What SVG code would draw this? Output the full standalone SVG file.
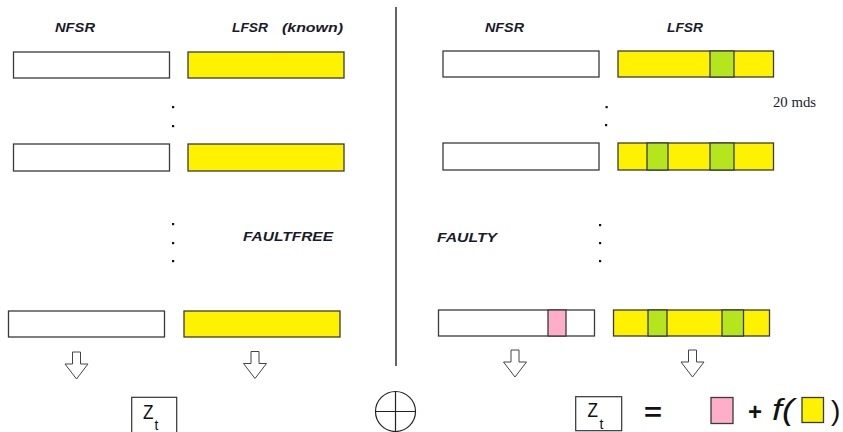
<svg xmlns="http://www.w3.org/2000/svg" width="843" height="432" viewBox="0 0 843 432">
  <style>
    .reg { fill: #ffffff; stroke: #3a3a3a; stroke-width: 1.3; }
    .lf { fill: #fff200; stroke: #3a3a3a; stroke-width: 1.3; }
    .gr { fill: #b5e61d; stroke: #3a3a3a; stroke-width: 1.3; }
    .pk { fill: #ffaec9; stroke: #3a3a3a; stroke-width: 1.3; }
    .lbl { font-family: "Liberation Sans", "DejaVu Sans", sans-serif; font-style: italic; font-weight: bold; font-size: 13px; fill: #1a1a2a; }
    .dot { fill: #111; }
    .arrow { fill: #ffffff; stroke: #444; stroke-width: 1; }
    .math { font-family: "Liberation Sans", "DejaVu Sans", sans-serif; fill: #111; }
    .line { stroke: #111; stroke-width: 1.3; fill: none; }
  </style>
  <defs>
    <path id="down" class="arrow" d="M-4,0 H4 V12 H11.5 L0,27 L-11.5,12 H-4 Z"/>
  </defs>

  <rect width="843" height="432" fill="#ffffff"/>

  <!-- column headings -->
  <g id="headings">
    <text class="lbl" x="55" y="32" textLength="40" lengthAdjust="spacingAndGlyphs">NFSR</text>
    <text class="lbl" x="232" y="32" textLength="36" lengthAdjust="spacingAndGlyphs">LFSR</text>
    <text class="lbl" x="282" y="32" textLength="61" lengthAdjust="spacingAndGlyphs">(known)</text>
    <text class="lbl" x="485" y="32" textLength="39" lengthAdjust="spacingAndGlyphs">NFSR</text>
    <text class="lbl" x="667" y="32" textLength="36" lengthAdjust="spacingAndGlyphs">LFSR</text>
    <text x="773" y="107" font-family="Liberation Serif, serif" font-size="14" fill="#1a1a2a" textLength="43" lengthAdjust="spacingAndGlyphs">20 mds</text>
    <text class="lbl" x="243" y="241" textLength="90" lengthAdjust="spacingAndGlyphs">FAULTFREE</text>
    <text class="lbl" x="437" y="242" textLength="60" lengthAdjust="spacingAndGlyphs">FAULTY</text>
  </g>

  <!-- fault-free side -->
  <g id="ff-nfsr-1"><rect class="reg" x="13.5" y="52" width="156" height="26"/></g>
  <g id="ff-lfsr-1"><rect class="lf" x="188" y="52" width="156" height="26"/></g>
  <g id="ff-nfsr-2"><rect class="reg" x="13.5" y="144" width="156" height="27"/></g>
  <g id="ff-lfsr-2"><rect class="lf" x="188" y="144" width="156" height="27"/></g>
  <g id="ff-nfsr-3"><rect class="reg" x="8.5" y="311" width="156" height="26"/></g>
  <g id="ff-lfsr-3"><rect class="lf" x="184" y="311" width="156" height="26"/></g>

  <!-- faulty side -->
  <g id="f-nfsr-1"><rect class="reg" x="443" y="51" width="156" height="26"/></g>
  <g id="f-lfsr-1">
    <rect class="lf" x="618" y="51" width="155.5" height="26"/>
    <rect class="gr" x="710" y="51" width="24" height="26"/>
  </g>
  <g id="f-nfsr-2"><rect class="reg" x="443" y="143" width="156" height="27"/></g>
  <g id="f-lfsr-2">
    <rect class="lf" x="618" y="143" width="155.5" height="27"/>
    <rect class="gr" x="647" y="143" width="21" height="27"/>
    <rect class="gr" x="710" y="143" width="24" height="27"/>
  </g>
  <g id="f-nfsr-3">
    <rect class="reg" x="438.5" y="310" width="156" height="26"/>
    <rect class="pk" x="548" y="310" width="18" height="26"/>
  </g>
  <g id="f-lfsr-3">
    <rect class="lf" x="613.5" y="310" width="156" height="26"/>
    <rect class="gr" x="648" y="310" width="19" height="26"/>
    <rect class="gr" x="722" y="310" width="21.5" height="26"/>
  </g>

  <!-- continuation dots -->
  <g id="dots">
    <rect class="dot" x="172" y="106" width="2.2" height="2.2"/>
    <rect class="dot" x="172" y="125" width="2.2" height="2.2"/>
    <rect class="dot" x="172" y="223" width="2.2" height="2.2"/>
    <rect class="dot" x="172" y="242" width="2.2" height="2.2"/>
    <rect class="dot" x="172" y="260" width="2.2" height="2.2"/>
    <rect class="dot" x="605.5" y="106" width="2.2" height="2.2"/>
    <rect class="dot" x="605" y="124" width="2.2" height="2.2"/>
    <rect class="dot" x="599" y="224" width="2.2" height="2.2"/>
    <rect class="dot" x="599" y="242" width="2.2" height="2.2"/>
    <rect class="dot" x="599" y="260" width="2.2" height="2.2"/>
  </g>

  <!-- connectors: divider and output arrows -->
  <g id="connectors">
    <line class="line" x1="396" y1="7" x2="396" y2="366"/>
    <use href="#down" x="76.5" y="352"/>
    <use href="#down" x="255" y="351.5"/>
    <use href="#down" x="515" y="350"/>
    <use href="#down" x="692.5" y="350"/>
  </g>

  <!-- keystream outputs -->
  <g id="zt-left">
    <rect x="131.7" y="397.3" width="45" height="40" fill="#fff" stroke="#333" stroke-width="1.2"/>
    <text class="math" x="143" y="418.5" font-size="21" textLength="10.5" lengthAdjust="spacingAndGlyphs">Z</text>
    <text class="math" x="154.5" y="430" font-size="14">t</text>
  </g>

  <g id="xor">
    <circle cx="395.5" cy="411.5" r="20" fill="none" stroke="#222" stroke-width="1.2"/>
    <line x1="375.5" y1="411.5" x2="415.5" y2="411.5" stroke="#222" stroke-width="1.2"/>
    <line x1="395.5" y1="391.5" x2="395.5" y2="432" stroke="#222" stroke-width="1.2"/>
  </g>

  <g id="zt-right">
    <rect x="575.7" y="396.7" width="46" height="34" fill="#fff" stroke="#333" stroke-width="1.2"/>
    <text class="math" x="587.5" y="417" font-size="21" textLength="10.5" lengthAdjust="spacingAndGlyphs">Z</text>
    <text class="math" x="599.5" y="429" font-size="14">t</text>
  </g>

  <g id="equation">
    <text class="math" x="644" y="421" font-size="26" font-weight="bold" textLength="18" lengthAdjust="spacingAndGlyphs">=</text>
    <rect class="pk" x="711" y="397.5" width="22" height="26"/>
    <text class="math" x="748" y="420" font-size="24" font-weight="bold">+</text>
    <text class="math" x="772" y="420" font-size="30" font-style="italic" textLength="22" lengthAdjust="spacingAndGlyphs">f(</text>
    <rect class="lf" x="802" y="397.5" width="21.5" height="25"/>
    <text class="math" x="831" y="420" font-size="28">)</text>
  </g>
</svg>
